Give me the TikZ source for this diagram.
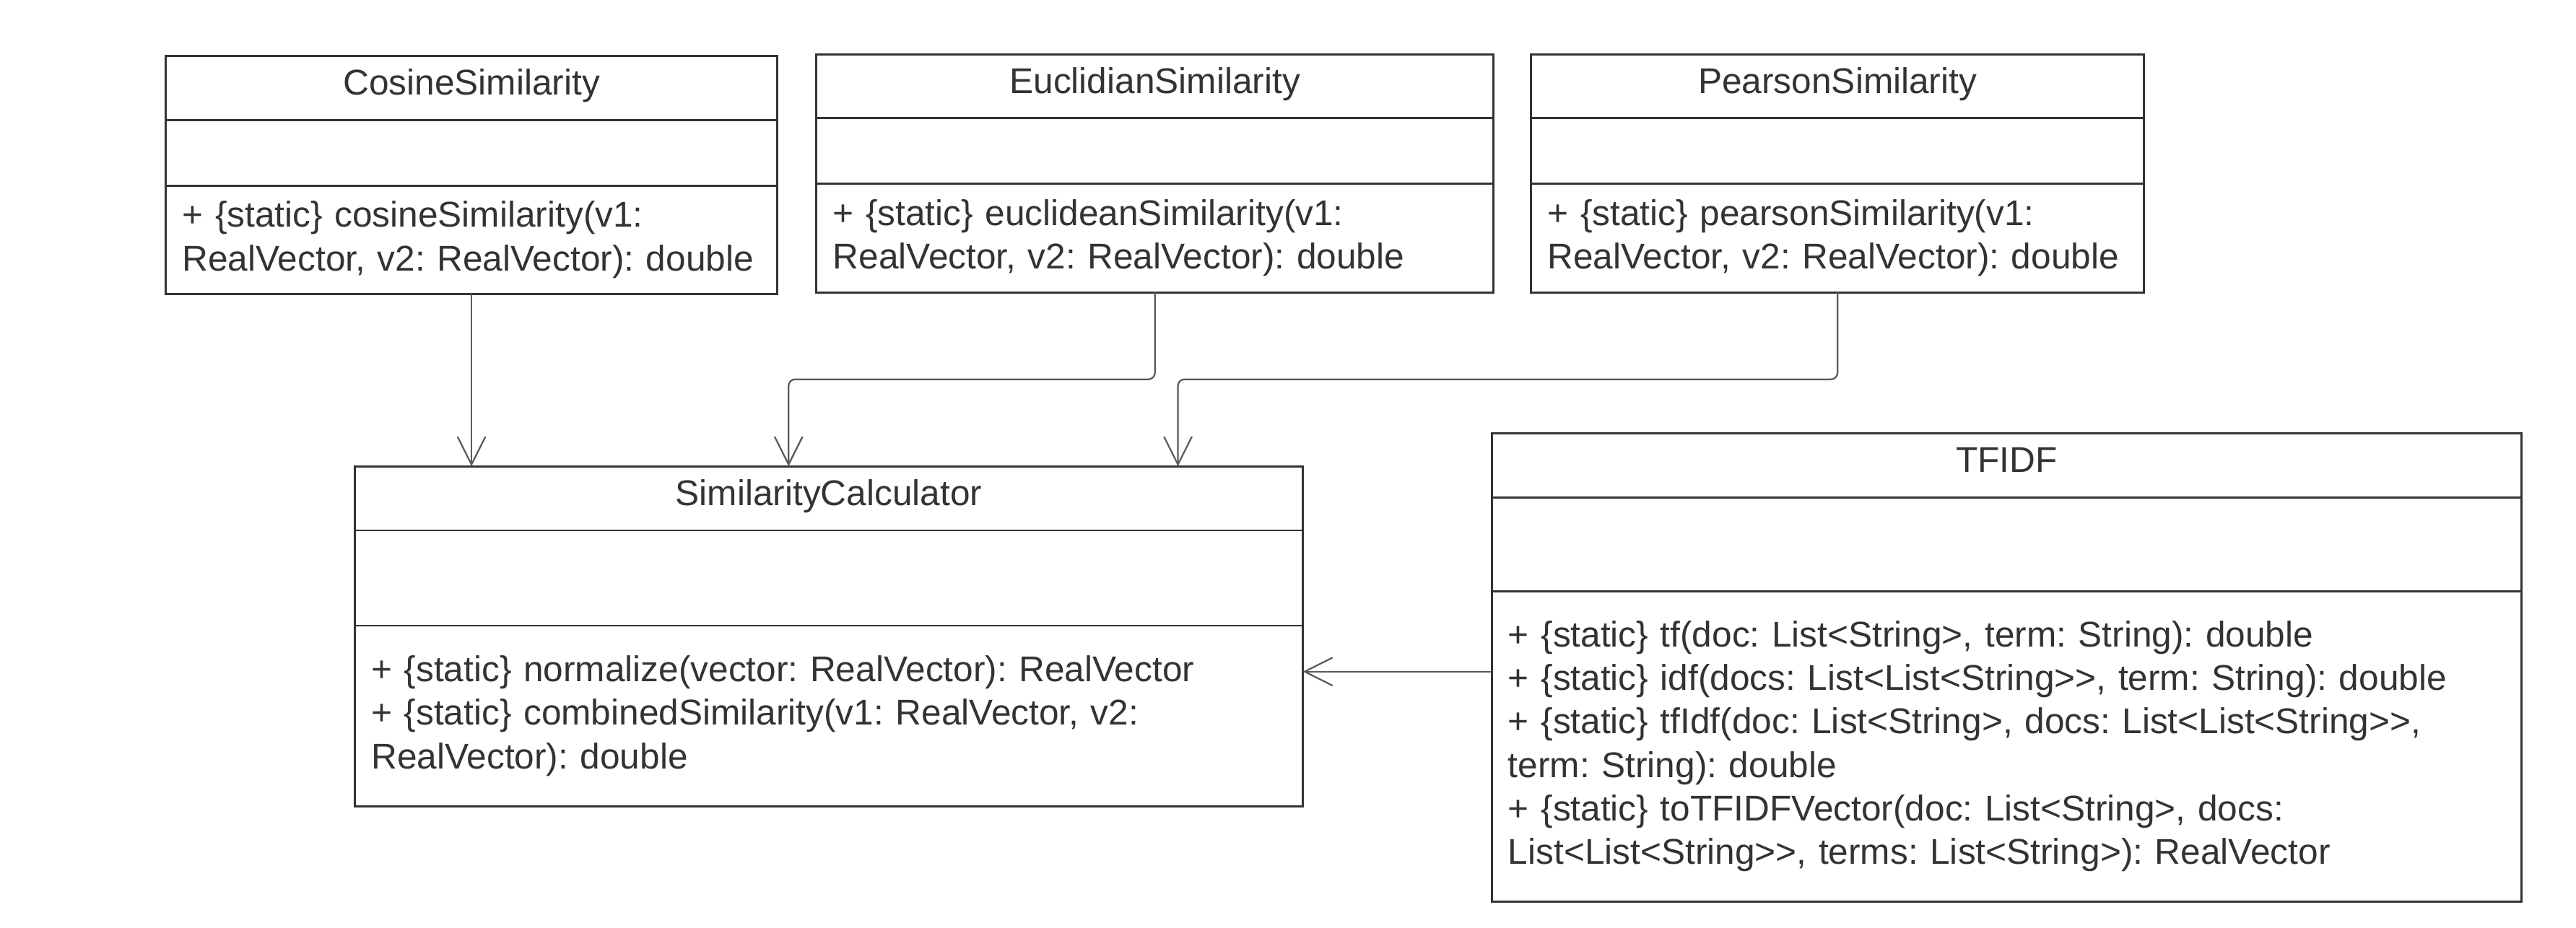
\documentclass[tikz,border=0pt]{standalone}
\usepackage{fontspec}
\setmainfont{Liberation Sans}[Ligatures=TeXOff]
\usetikzlibrary{positioning,arrows.meta}
\definecolor{umlline}{HTML}{333333}
\definecolor{umlarrow}{HTML}{5A5A5A}
\frenchspacing

\begin{document}
\begin{tikzpicture}[x=1pt, y=-1pt,
	every node/.style={font=\fontsize{21.8}{26.5}\selectfont, text=umlline},
	cls/.style={rectangle, draw=umlline, line width=1.3pt, outer sep=0pt, inner sep=0pt},
	ttl/.style={cls, minimum height=39pt, text height=15.6pt, text depth=7pt},
	ops/.style={cls, align=left, inner xsep=10pt, inner ysep=4pt},
	dep/.style={draw=umlarrow, line width=1pt, rounded corners=4pt, -{Straight Barb[length=17pt, width=17pt, line width=1pt]}}]
	\useasboundingbox (0,0) rectangle (1568,565.1);

	% top row
	\node[ttl, minimum width=372pt] (cosT) at (287,53.5) {CosineSimilarity};
	\node[cls, minimum width=372pt, minimum height=40pt, below=0pt of cosT] (cosA) {};
	\node[ops, text width=352pt, minimum height=66pt, below=0pt of cosA] (cosM) {+ \{static\} cosineSimilarity(v1:\\RealVector, v2: RealVector): double};

	\node[ttl, minimum width=412pt] (eucT) at (703,52.5) {EuclidianSimilarity};
	\node[cls, minimum width=412pt, minimum height=40pt, below=0pt of eucT] (eucA) {};
	\node[ops, text width=392pt, minimum height=66pt, below=0pt of eucA] (eucM) {+ \{static\} euclideanSimilarity(v1:\\RealVector, v2: RealVector): double};

	\node[ttl, minimum width=373pt] (pearT) at (1118.5,52.5) {PearsonSimilarity};
	\node[cls, minimum width=373pt, minimum height=40pt, below=0pt of pearT] (pearA) {};
	\node[ops, text width=353pt, minimum height=66pt, below=0pt of pearA] (pearM) {+ \{static\} pearsonSimilarity(v1:\\RealVector, v2: RealVector): double};

	% bottom row
	\node[ttl, minimum width=577pt] (calcT) at (504.5,303.5) {SimilarityCalculator};
	\node[cls, minimum width=577pt, minimum height=58pt, below=0pt of calcT] (calcA) {};
	\node[ops, text width=557pt, minimum height=110pt, below=0pt of calcA] (calcM) {+ \{static\} normalize(vector: RealVector): RealVector\\+ \{static\} combinedSimilarity(v1: RealVector, v2:\\RealVector): double};

	\node[ttl, minimum width=627pt] (tfT) at (1221.5,283.5) {TFIDF};
	\node[cls, minimum width=627pt, minimum height=57pt, below=0pt of tfT] (tfA) {};
	\node[ops, text width=607pt, minimum height=189pt, below=0pt of tfA] (tfM) {+ \{static\} tf(doc: List<String>, term: String): double\\+ \{static\} idf(docs: List<List<String>>, term: String): double\\+ \{static\} tfIdf(doc: List<String>, docs: List<List<String>>,\\term: String): double\\+ \{static\} toTFIDFVector(doc: List<String>, docs:\\List<List<String>>, terms: List<String>): RealVector};

	% dependencies
	\draw[dep] (cosM.south) -- (cosM.south |- calcT.north);
	\draw[dep] (eucM.south) -- ++(0,53) -| ([xshift=264pt]calcT.north west);
	\draw[dep] (pearM.south) -- ++(0,53) -| ([xshift=501pt]calcT.north west);
	\coordinate (tfIn) at ([yshift=45.5pt]tfM.west);
	\draw[dep] (tfIn) -- (tfIn -| calcM.east);
\end{tikzpicture}
\end{document}
